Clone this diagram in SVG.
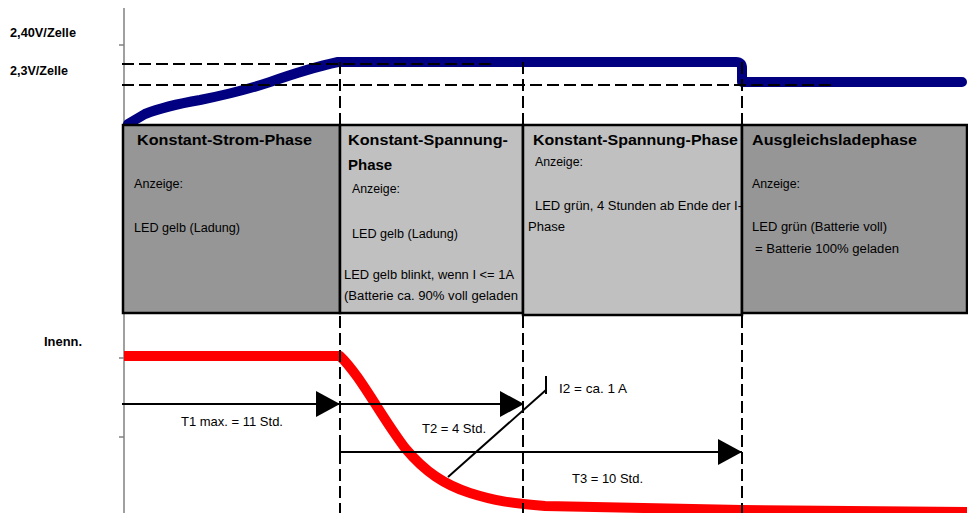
<svg xmlns="http://www.w3.org/2000/svg" width="968" height="513" viewBox="0 0 968 513">
<style>
.t{font-family:"Liberation Sans",Arial,sans-serif;fill:#000}
.b{font-weight:bold}
.title{font-size:15px;font-weight:bold}
.s{font-size:12px}
.m{font-size:13px}
.box{stroke:#000;stroke-width:2.5}
.dk{fill:#969696}
.lt{fill:#c0c0c0}
.dash{fill:none;stroke:#000;stroke-width:2;stroke-dasharray:12 5}
.ln{fill:none;stroke:#000;stroke-width:2}
.axis{fill:none;stroke:#808080;stroke-width:1.5}
</style>
<defs>
<marker id="ah" markerUnits="userSpaceOnUse" markerWidth="24" markerHeight="26" refX="24" refY="13" orient="auto">
<path d="M0,0 L24,13 L0,26 z" fill="#000"/>
</marker>
</defs>
<rect width="968" height="513" fill="#fff"/>

<g id="axis">
<line class="axis" x1="124" y1="8" x2="124" y2="513"/>
<line class="axis" x1="119" y1="45" x2="124" y2="45"/>
<line class="axis" x1="119" y1="358" x2="124" y2="358"/>
<line class="axis" x1="119" y1="437" x2="124" y2="437"/>
<text class="t b m" x="10" y="37" textLength="66" lengthAdjust="spacingAndGlyphs">2,40V/Zelle</text>
<text class="t b m" x="10" y="75" textLength="58" lengthAdjust="spacingAndGlyphs">2,3V/Zelle</text>
<text class="t b m" x="44" y="346" textLength="38" lengthAdjust="spacingAndGlyphs">Inenn.</text>
</g>

<g id="voltage-curve">
<path d="M128,124 L145,114 Q165,106 200,100 Q240,92 270,82 Q310,68 338,62 L736,62 Q742,62 742,68 L742,82 L962,82" fill="none" stroke="#000080" stroke-width="10" stroke-linecap="round" stroke-linejoin="round"/>
</g>

<g id="current-curve">
<path d="M124,356 L340,356 C360,375 380,415 405,448 C425,472 445,485 470,493 C495,501 510,503 545,506 L742,510 L967,512" fill="none" stroke="#ff0000" stroke-width="10" stroke-linejoin="round"/>
</g>

<g id="phase-constant-current">
<rect class="box dk" x="123" y="125" width="217" height="188"/>
<text class="t title" x="137" y="145" textLength="175" lengthAdjust="spacingAndGlyphs">Konstant-Strom-Phase</text>
<text class="t s" x="134" y="188" textLength="49" lengthAdjust="spacingAndGlyphs">Anzeige:</text>
<text class="t s" x="134" y="232" textLength="106" lengthAdjust="spacingAndGlyphs">LED gelb (Ladung)</text>
</g>

<g id="phase-constant-voltage-1">
<rect class="box lt" x="340" y="125" width="183" height="188"/>
<text class="t title" x="348" y="145" textLength="160" lengthAdjust="spacingAndGlyphs">Konstant-Spannung-</text>
<text class="t title" x="348" y="170">Phase</text>
<text class="t s" x="352" y="193" textLength="48" lengthAdjust="spacingAndGlyphs">Anzeige:</text>
<text class="t s" x="352" y="238" textLength="106" lengthAdjust="spacingAndGlyphs">LED gelb (Ladung)</text>
<text class="t s" x="344" y="279" textLength="170" lengthAdjust="spacingAndGlyphs">LED gelb blinkt, wenn I &lt;= 1A</text>
<text class="t s" x="344" y="300" textLength="174" lengthAdjust="spacingAndGlyphs">(Batterie ca. 90% voll geladen</text>
</g>

<g id="phase-constant-voltage-2">
<rect class="box lt" x="523" y="125" width="219" height="190"/>
<text class="t title" x="533" y="145" textLength="205" lengthAdjust="spacingAndGlyphs">Konstant-Spannung-Phase</text>
<text class="t s" x="535" y="166" textLength="48" lengthAdjust="spacingAndGlyphs">Anzeige:</text>
<text class="t s" x="535" y="210" textLength="207" lengthAdjust="spacingAndGlyphs">LED grün, 4 Stunden ab Ende der I-</text>
<text class="t s" x="528" y="231" textLength="37" lengthAdjust="spacingAndGlyphs">Phase</text>
</g>

<g id="phase-equalization">
<rect class="box dk" x="742" y="125" width="225" height="188"/>
<text class="t title" x="752" y="145" textLength="165" lengthAdjust="spacingAndGlyphs">Ausgleichsladephase</text>
<text class="t s" x="752" y="188" textLength="48" lengthAdjust="spacingAndGlyphs">Anzeige:</text>
<text class="t s" x="752" y="231" textLength="135" lengthAdjust="spacingAndGlyphs">LED grün (Batterie voll)</text>
<text class="t s" x="755" y="253" textLength="144" lengthAdjust="spacingAndGlyphs">= Batterie 100% geladen</text>
</g>

<g id="guides">
<line class="dash" x1="122" y1="64" x2="496" y2="64"/>
<line class="dash" x1="122" y1="85" x2="836" y2="85"/>
<line class="dash" x1="340" y1="62" x2="340" y2="125"/>
<line class="dash" x1="523" y1="62" x2="523" y2="125"/>
<line class="dash" x1="742" y1="62" x2="742" y2="125"/>
<line class="dash" x1="340" y1="316" x2="340" y2="513"/>
<line class="dash" x1="523" y1="316" x2="523" y2="513"/>
<line class="dash" x1="742" y1="316" x2="742" y2="513"/>
</g>

<g id="connectors">
<line class="ln" x1="122" y1="404" x2="340" y2="404" marker-end="url(#ah)"/>
<line class="ln" x1="340" y1="404" x2="524" y2="404" marker-end="url(#ah)"/>
<line class="ln" x1="340" y1="452" x2="742" y2="452" marker-end="url(#ah)"/>
<line class="ln" x1="340" y1="446" x2="340" y2="458"/>
<line class="ln" x1="448" y1="477" x2="546" y2="390"/>
<line class="ln" x1="546" y1="376" x2="546" y2="394"/>
</g>

<g id="labels">
<text class="t m" x="181" y="426" textLength="102" lengthAdjust="spacingAndGlyphs">T1 max. = 11 Std.</text>
<text class="t m" x="422" y="433" textLength="64" lengthAdjust="spacingAndGlyphs">T2 = 4 Std.</text>
<text class="t m" x="559" y="393" textLength="68" lengthAdjust="spacingAndGlyphs">I2 = ca. 1 A</text>
<text class="t m" x="572" y="483" textLength="71" lengthAdjust="spacingAndGlyphs">T3 = 10 Std.</text>
</g>
</svg>
